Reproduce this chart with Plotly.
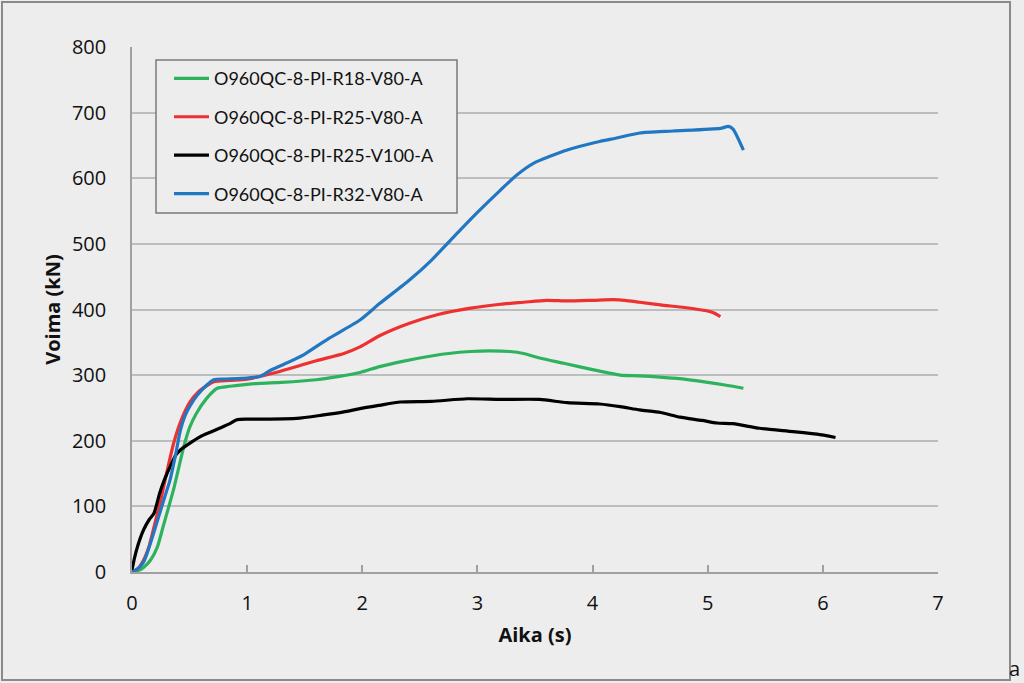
import plotly.graph_objects as go

names = ["O960QC-8-PI-R18-V80-A", "O960QC-8-PI-R25-V80-A",
         "O960QC-8-PI-R25-V100-A", "O960QC-8-PI-R32-V80-A"]
colors = ["#2db35d", "#ee3030", "#000000", "#2277c2"]

green_x = [0, 0.05, 0.1, 0.16, 0.22, 0.27, 0.32, 0.36, 0.41, 0.45, 0.5, 0.56, 0.65, 0.74, 0.85, 1.0, 1.11, 1.3, 1.6, 1.8, 1.98, 2.15, 2.35, 2.56, 2.75, 2.94, 3.1, 3.28, 3.4, 3.54, 3.75, 4.01, 4.24, 4.41, 4.73, 5.0, 5.15, 5.31]
green_y = [0, 2, 7, 18, 38, 69, 100, 125, 162, 191, 220, 242, 265, 280, 283, 286, 287.5, 289, 293, 298, 304, 313, 321, 328, 333, 336, 337, 336, 333, 326, 318, 308, 300, 299, 295, 289, 285, 280]

red_x = [0, 0.05, 0.1, 0.15, 0.2, 0.25, 0.3, 0.36, 0.42, 0.5, 0.58, 0.65, 0.71, 0.85, 1.0, 1.11, 1.25, 1.43, 1.6, 1.84, 1.98, 2.15, 2.41, 2.65, 2.94, 3.2, 3.4, 3.6, 3.78, 4.0, 4.18, 4.28, 4.41, 4.59, 4.8, 4.99, 5.05, 5.11]
red_y = [0, 5, 18, 40, 75, 110, 150, 195, 228, 258, 275, 284, 290, 292, 294, 298, 304, 313, 322, 333, 343, 360, 379, 392, 402, 408, 411, 414, 413, 414, 415, 414, 411, 407, 403, 398, 395, 389]

black_x = [0, 0.02, 0.05, 0.1, 0.15, 0.19, 0.24, 0.28, 0.33, 0.38, 0.42, 0.5, 0.59, 0.68, 0.76, 0.85, 0.91, 1.0, 1.2, 1.43, 1.65, 1.84, 1.98, 2.15, 2.33, 2.6, 2.91, 3.2, 3.54, 3.78, 4.06, 4.24, 4.41, 4.59, 4.76, 4.95, 5.08, 5.22, 5.45, 5.74, 5.95, 6.11]
black_y = [3, 20, 40, 64, 80, 89, 120, 140, 160, 178, 186, 196, 206, 213, 219, 226, 232, 233, 233, 234, 239, 244, 249, 254, 259, 260, 264, 263, 263, 258, 256, 252, 247, 243, 236, 231, 227, 226, 219, 214, 210, 205]

blue_x = [0, 0.05, 0.1, 0.13, 0.18, 0.24, 0.28, 0.33, 0.38, 0.42, 0.46, 0.5, 0.57, 0.65, 0.71, 0.8, 0.95, 1.11, 1.2, 1.3, 1.49, 1.7, 1.98, 2.15, 2.41, 2.6, 2.85, 3.0, 3.2, 3.35, 3.49, 3.78, 4.06, 4.2, 4.41, 4.7, 5.11, 5.18, 5.22, 5.31]
blue_y = [0, 5, 15, 28, 55, 89, 112, 140, 180, 216, 238, 252, 270, 285, 293, 294, 295, 298, 307, 315, 331, 355, 384, 409, 445, 475, 521, 548, 582, 606, 623, 643, 656, 661, 669, 672, 676, 679, 675, 643]

xs = [green_x, red_x, black_x, blue_x]
ys = [green_y, red_y, black_y, blue_y]

x_ticks = [0, 1, 2, 3, 4, 5, 6, 7]
y_ticks = [0, 100, 200, 300, 400, 500, 600, 700, 800]

fig = go.Figure()
for n, c, x, y in zip(names, colors, xs, ys):
    fig.add_trace(go.Scatter(x=x, y=y, mode="lines", name=n, legendgroup=n,
                             line=dict(color=c, width=3.2, shape="spline", smoothing=0.6)))

bg = "#ededed"
grid = "#bdbdbd"
font = "Lato"
tfont = "Open Sans"
W, H = 806, 525  # plot area size in px
fig.update_layout(
    width=1024, height=683,
    paper_bgcolor=bg, plot_bgcolor=bg,
    margin=dict(l=132, r=86, t=47, b=111),
    font=dict(family=tfont, size=20, color="#111111"),
    showlegend=True,
    legend=dict(x=(169 - 132) / W, y=0.975, xanchor="left", yanchor="top",
                bgcolor="rgba(0,0,0,0)", borderwidth=0,
                font=dict(family=font, size=18, color="#111111"),
                tracegroupgap=12, itemwidth=35),
    xaxis=dict(range=[0, 7], tickvals=x_ticks, ticks="inside", ticklen=7,
               tickcolor="#a0a0a0", tickwidth=1.5,
               tickfont=dict(family=tfont, size=20),
               showgrid=False, zeroline=False, showline=True, linecolor="#a0a0a0", linewidth=1.5,
               ticklabelstandoff=12,
               title=dict(text="<b>Aika (s)</b>", font=dict(family=tfont, size=20), standoff=13)),
    yaxis=dict(range=[0, 800], tickvals=y_ticks, ticks="", showgrid=True, gridcolor=grid, gridwidth=1.5,
               tickfont=dict(family=tfont, size=20),
               zeroline=False, showline=True, linecolor="#a0a0a0", linewidth=1.5,
               ticklabelstandoff=20,
               title=dict(text="<b>Voima (kN)</b>", font=dict(family=tfont, size=20), standoff=6)),
)
# outer frame
fig.add_shape(type="rect", xref="paper", yref="paper",
              x0=-130 / W, x1=878 / W, y0=-108 / H, y1=1 + 45 / H,
              line=dict(color="#8a8a8a", width=2), fillcolor="rgba(0,0,0,0)", layer="below")
# legend box
fig.add_shape(type="rect", xref="paper", yref="paper",
              x0=(156 - 132) / W, x1=(457 - 132) / W, y0=(572 - 213) / H, y1=(572 - 60) / H,
              line=dict(color="#7a7a7a", width=1.5), fillcolor=bg, layer="above")
fig.add_annotation(xref="paper", yref="paper", x=(1022 - 132) / W, y=-(668 - 572) / H,
                   text="a", showarrow=False, xanchor="right", yanchor="middle",
                   font=dict(family=tfont, size=20, color="#111111"))
fig.write_html("out.html", config={"displayModeBar": False},
               post_script="document.body.style.margin='0';")
